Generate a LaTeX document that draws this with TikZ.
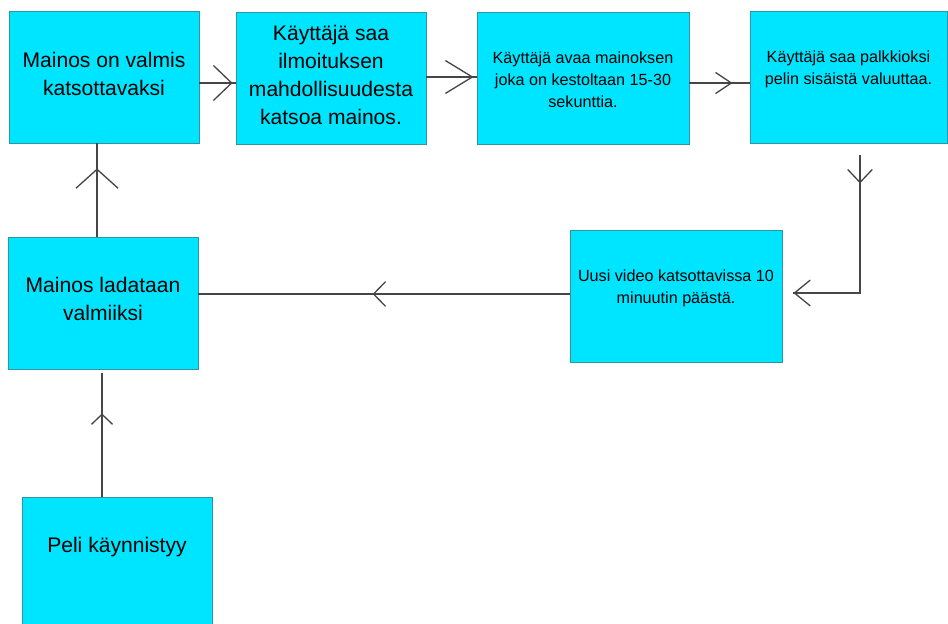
\documentclass[tikz,border=0pt]{standalone}
\usepackage{fontspec}
\setmainfont{Liberation Sans}
\usetikzlibrary{arrows.meta,decorations.markings}
\definecolor{boxcyan}{RGB}{0,229,255}
\definecolor{boxedge}{RGB}{45,150,160}
\definecolor{flowgray}{RGB}{70,70,70}
\tikzset{
  stepbox/.style={draw=boxedge, fill=boxcyan, line width=0.5pt, inner sep=0pt,
    minimum width=#1, minimum height=2.64cm},
  bigtxt/.style={align=center, inner sep=0pt, font=\fontsize{12}{15.9}\selectfont},
  smalltxt/.style={align=center, inner sep=0pt, font=\fontsize{9.2}{12.5}\selectfont},
  flow/.style={draw=flowgray, line width=0.75pt},
  tipat/.style n args={3}{postaction={decorate}, decoration={markings,
    mark=at position #1 with {\arrow{Straight Barb[length=#2,width=#3]}}}}
}
\begin{document}
\begin{tikzpicture}[x=0.02cm,y=-0.02cm]
    \clip (0,0) rectangle (948,624);
    % boxes
    \node[stepbox=3.8cm] (ready) at (104,77) {};
    \node[stepbox=3.8cm] (notify) at (331,78.5) {};
    \node[stepbox=4.24cm] (watch) at (583,78) {};
    \node[stepbox=3.94cm] (reward) at (848.5,77) {};
    \node[stepbox=4.24cm] (nextvideo) at (676,296.5) {};
    \node[stepbox=3.8cm] (preload) at (103,303) {};
    \node[stepbox=3.8cm] (start) at (117,563) {};
    % texts
    \node[bigtxt] (readytxt) at (104,74) {Mainos on valmis\\katsottavaksi};
    \node[bigtxt] (notifytxt) at (331,75) {Käyttäjä saa\\ilmoituksen\\mahdollisuudesta\\katsoa mainos.};
    \node[smalltxt] (watchtxt) at (583,80) {Käyttäjä avaa mainoksen\\joka on kestoltaan 15-30\\sekunttia.};
    \node[smalltxt] (rewardtxt) at (848.5,69) {Käyttäjä saa palkkioksi\\pelin sisäistä valuuttaa.};
    \node[smalltxt] (nextvideotxt) at (676,288) {Uusi video katsottavissa 10\\minuutin päästä.};
    \node[bigtxt] (preloadtxt) at (103,299) {Mainos ladataan\\valmiiksi};
    \node[bigtxt] (starttxt) at (117,547) {Peli käynnistyy};
    % connectors
    \path[flow, tipat={-0.06cm}{10.4pt}{20pt}] ([yshift=-0.12cm]ready.east) -- ([yshift=-0.12cm]ready.east -| notify.west);
    \path[flow, tipat={-0.06cm}{15.3pt}{18.7pt}] ([yshift=0.03cm]notify.east) -- ([yshift=0.03cm]notify.east -| watch.west);
    \path[flow, tipat={-0.34cm}{9pt}{12pt}] ([yshift=-0.1cm]watch.east) -- ([yshift=-0.1cm]watch.east -| reward.west);
    \path[flow, postaction={decorate}, decoration={markings,
        mark=at position 0.56cm with {\arrow{Straight Barb[length=7.4pt,width=14pt]}},
        mark=at position 1 with {\arrow{Straight Barb[length=9pt,width=14.7pt]}}}]
      ([xshift=0.23cm,yshift=-0.24cm]reward.south) |- ([xshift=0.22cm,yshift=0.07cm]nextvideo.east);
    \path[flow, tipat={3.94cm}{6.8pt}{14pt}] ([yshift=0.05cm]nextvideo.west) -- ([yshift=0.05cm]nextvideo.west -| preload.east);
    \path[flow, tipat={-0.5cm}{10.8pt}{24pt}] ([xshift=-0.12cm]preload.north) -- ([xshift=-0.12cm]preload.north |- ready.south);
    \path[flow, tipat={-0.8cm}{5.7pt}{12pt}] ([xshift=-0.3cm]start.north) -- ([xshift=-0.3cm,yshift=-0.08cm]start.north |- preload.south);
\end{tikzpicture}
\end{document}
